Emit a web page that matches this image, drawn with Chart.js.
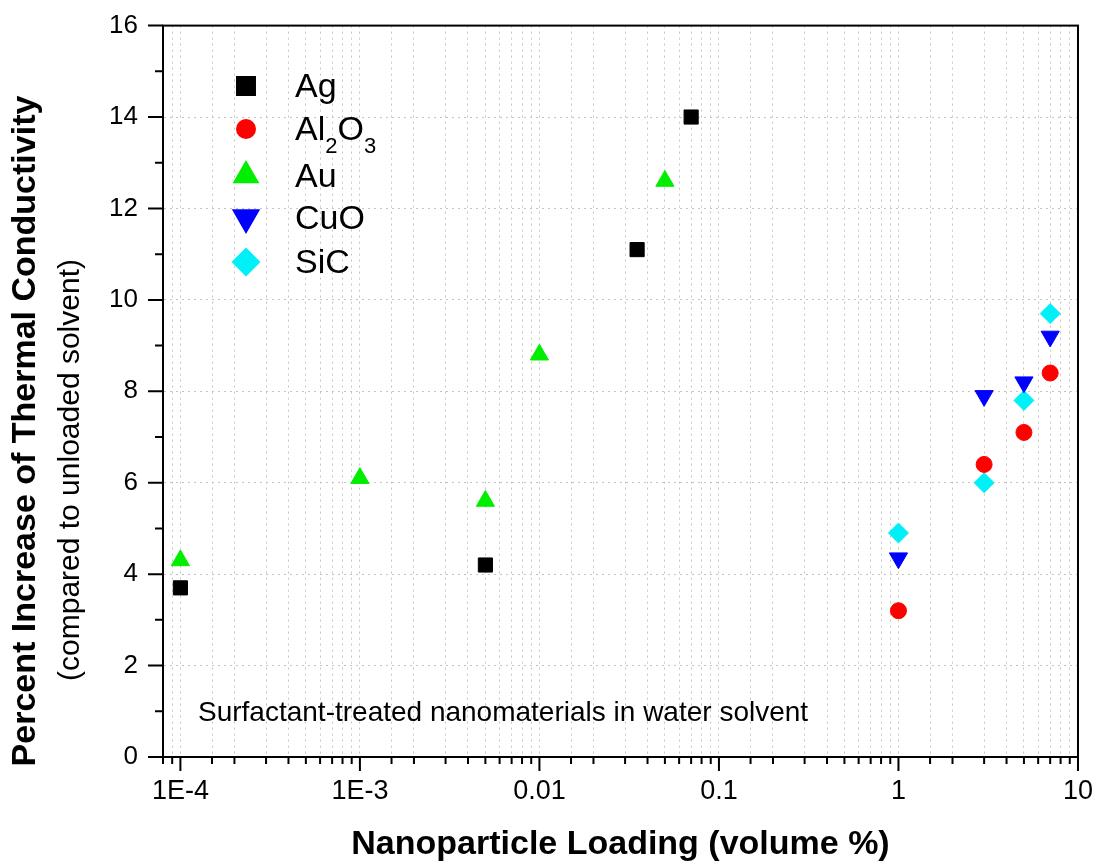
<!DOCTYPE html>
<html>
<head>
<meta charset="utf-8">
<title>Thermal conductivity increase</title>
<script src="https://cdn.jsdelivr.net/npm/chart.js@4.4.0/dist/chart.umd.min.js"></script>
<style>
  body { margin: 0; background: #fff; }
  #wrap { width: 1097px; height: 865px; }
</style>
</head>
<body>
<div id="wrap"><canvas id="conductivityChart" width="1097" height="865"></canvas></div>
<script>
// values (loading in volume %, increase in %)
const agLoading = [1e-4, 5e-3, 0.035, 0.07];
const agIncrease = [3.7, 4.2, 11.1, 14.0];
const al2o3Loading = [1, 3, 5, 7];
const al2o3Increase = [3.2, 6.4, 7.1, 8.4];
const auLoading = [1e-4, 1e-3, 5e-3, 0.01, 0.05];
const auIncrease = [4.3, 6.1, 5.6, 8.8, 12.6];
const cuoLoading = [1, 3, 5, 7];
const cuoIncrease = [4.35, 7.9, 8.2, 9.2];
const sicLoading = [1, 3, 5, 7];
const sicIncrease = [4.9, 6.0, 7.8, 9.7];

const xTickValues = [1e-4, 1e-3, 0.01, 0.1, 1, 10];
const xTickLabels = ['1E-4', '1E-3', '0.01', '0.1', '1', '10'];

const seriesNames = ['Ag', 'Al2O3', 'Au', 'CuO', 'SiC'];
const seriesColors = ['#000000', '#ff0000', '#00ee00', '#0000ff', '#00f0f8'];

const FONT = '"Liberation Sans", Arial, sans-serif';

function toPoints(xs, ys) {
    return xs.map((x, i) => ({ x: x, y: ys[i] }));
}

function majorIndex(value) {
    return xTickValues.findIndex(v => Math.abs(Math.log10(v) - Math.log10(value)) < 1e-6);
}

// legend marker settings (legend symbols are bigger than the plotted ones)
const legendMarkers = [
    { pointStyle: 'rect', radius: 12.7, rotation: 0, y: 86 },
    { pointStyle: 'circle', radius: 9, rotation: 0, y: 129 },
    { pointStyle: 'triangle', radius: 13.5, rotation: 0, y: 175.5 },
    { pointStyle: 'triangle', radius: 14.4, rotation: 180, y: 217.5 },
    { pointStyle: 'rectRot', radius: 13, rotation: 0, y: 262 }
];

const decorPlugin = {
    id: 'decor',
    afterDraw(chart) {
        const { ctx, chartArea: a, scales: { x, y } } = chart;
        ctx.save();

        // frame round the plot
        ctx.strokeStyle = '#000';
        ctx.lineWidth = 2;
        ctx.strokeRect(a.left, a.top, a.right - a.left, a.bottom - a.top);

        // tick marks, outside, long for majors and short for minors
        ctx.beginPath();
        x.ticks.forEach(t => {
            if (t.value < x.min || t.value > x.max) return;
            const px = x.getPixelForValue(t.value);
            const len = majorIndex(t.value) >= 0 ? 14 : 7;
            ctx.moveTo(px, a.bottom);
            ctx.lineTo(px, a.bottom + len);
        });
        y.ticks.forEach((t, i) => {
            const py = y.getPixelForValue(t.value);
            ctx.moveTo(a.left - 15, py);
            ctx.lineTo(a.left, py);
            if (i < y.ticks.length - 1) {
                const pm = y.getPixelForValue((t.value + y.ticks[i + 1].value) / 2);
                ctx.moveTo(a.left - 8, pm);
                ctx.lineTo(a.left, pm);
            }
        });
        ctx.stroke();

        // y axis title, two lines
        ctx.fillStyle = '#000';
        ctx.textAlign = 'center';
        ctx.textBaseline = 'middle';
        ctx.save();
        ctx.translate(26, 431);
        ctx.rotate(-Math.PI / 2);
        ctx.font = 'bold 34px ' + FONT;
        ctx.fillText('Percent Increase of Thermal Conductivity', 0, 0);
        ctx.restore();
        ctx.save();
        ctx.translate(71, 470);
        ctx.rotate(-Math.PI / 2);
        ctx.font = '30px ' + FONT;
        ctx.fillText('(compared to unloaded solvent)', 0, 0);
        ctx.restore();

        // note inside the plot
        ctx.textAlign = 'left';
        ctx.textBaseline = 'alphabetic';
        ctx.font = '28px ' + FONT;
        ctx.fillText('Surfactant-treated nanomaterials in water solvent', 198, 721);

        // legend
        chart.data.datasets.forEach((ds, i) => {
            const m = legendMarkers[i];
            ctx.fillStyle = ds.backgroundColor;
            ctx.strokeStyle = ds.backgroundColor;
            Chart.helpers.drawPoint(ctx, {
                pointStyle: m.pointStyle, radius: m.radius, rotation: m.rotation, borderWidth: 1
            }, 246, m.y);

            ctx.fillStyle = '#000';
            let tx = 295;
            const base = legendMarkers[i].y + 11;
            for (const ch of ds.label) {
                const sub = /[0-9]/.test(ch);
                ctx.font = (sub ? '22px ' : '34px ') + FONT;
                ctx.fillText(ch, tx, sub ? base + 13 : base);
                tx += ctx.measureText(ch).width;
            }
        });

        ctx.restore();
    }
};

function drawChart() {
    const ctx = document.getElementById('conductivityChart').getContext('2d');

    const loadings = [agLoading, al2o3Loading, auLoading, cuoLoading, sicLoading];
    const increases = [agIncrease, al2o3Increase, auIncrease, cuoIncrease, sicIncrease];
    const styles = [
        { pointStyle: 'rect', radius: 10, rotation: 0 },
        { pointStyle: 'circle', radius: 8, rotation: 0 },
        { pointStyle: 'triangle', radius: 10.5, rotation: 0 },
        { pointStyle: 'triangle', radius: 10.5, rotation: 180 },
        { pointStyle: 'rectRot', radius: 10, rotation: 0 }
    ];

    const datasets = seriesNames.map((name, i) => ({
        label: name,
        data: toPoints(loadings[i], increases[i]),
        pointStyle: styles[i].pointStyle,
        pointRadius: styles[i].radius,
        pointHoverRadius: styles[i].radius,
        pointRotation: styles[i].rotation,
        backgroundColor: seriesColors[i],
        borderColor: seriesColors[i],
        borderWidth: 1,
        showLine: false
    }));

    new Chart(ctx, {
        type: 'scatter',
        data: { datasets: datasets },
        options: {
            responsive: false,
            animation: false,
            layout: { padding: { top: 21, right: 17, bottom: 0, left: 0 } },
            scales: {
                x: {
                    type: 'logarithmic',
                    min: 8e-5,
                    max: 10,
                    afterFit: s => { s.height = 108; },
                    grid: {
                        color: '#c4c4c4',
                        lineWidth: 1,
                        drawTicks: true,
                        tickLength: 14,
                        tickColor: 'rgba(0,0,0,0)'
                    },
                    border: { color: '#000', width: 2, dash: [2, 4] },
                    ticks: {
                        autoSkip: false,
                        maxRotation: 0,
                        minRotation: 0,
                        padding: 4,
                        color: '#000',
                        font: { family: FONT, size: 27 },
                        callback: function (value) {
                            const k = majorIndex(value);
                            return k >= 0 ? xTickLabels[k] : '';
                        }
                    },
                    title: {
                        display: true,
                        text: 'Nanoparticle Loading (volume %)',
                        color: '#000',
                        font: { family: FONT, size: 34, weight: 'bold' },
                        padding: { top: 0, bottom: 0 }
                    }
                },
                y: {
                    min: 0,
                    max: 16,
                    afterFit: s => { s.width = 163; },
                    grid: {
                        color: '#c4c4c4',
                        lineWidth: 1,
                        drawTicks: true,
                        tickLength: 15,
                        tickColor: 'rgba(0,0,0,0)'
                    },
                    border: { color: '#000', width: 2, dash: [2, 4] },
                    ticks: {
                        stepSize: 2,
                        padding: 10,
                        color: '#000',
                        font: { family: FONT, size: 26 }
                    }
                }
            },
            plugins: {
                legend: { display: false },
                tooltip: { enabled: false }
            }
        },
        plugins: [decorPlugin]
    });
}

document.addEventListener('DOMContentLoaded', drawChart);
</script>
</body>
</html>
